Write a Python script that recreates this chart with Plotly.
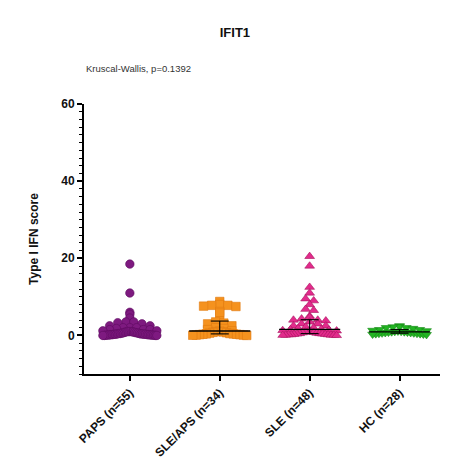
import numpy as np
import plotly.graph_objects as go

categories = ["PAPS (n=55)", "SLE/APS (n=34)", "SLE (n=48)", "HC (n=28)"]
paps = [18.5, 11, 6, 5.5, 4.5, 3.5, 3.5, 3.3, 3, 2.5, 2.5, 2, 2, 2, 1.8, 1.5, 1.5, 1.5, 1.2, 1.2,
        1, 1, 1, 1, 0.9, 0.8, 0.8, 0.7, 0.7, 0.6, 0.6, 0.5, 0.5, 0.5, 0.4, 0.4, 0.4, 0.3, 0.3, 0.3,
        0.3, 0.2, 0.2, 0.2, 0.2, 0.1, 0.1, 0.1, 0.1, 0.05, 0.05, 0, 0, 0, 0]
sle_aps = [8.8, 8, 7.8, 7.8, 7.6, 7.5, 6.2, 5.8, 3.8, 3.5, 3.2, 3, 2.5, 2, 1.8, 1.5, 1.2, 1.1, 1, 0.9,
           0.8, 0.7, 0.6, 0.5, 0.4, 0.4, 0.3, 0.3, 0.2, 0.2, 0.1, 0.1, 0.05, 0]
sle = [20.5, 18, 12.5, 11, 9.5, 9, 8, 6.8, 6.5, 5, 4.7, 4.3, 4, 4, 3.8, 3.5, 3, 3, 2.5, 2.5,
       2.2, 2, 1.8, 1.6, 1.5, 1.4, 1.3, 1.2, 1, 1, 0.9, 0.8, 0.7, 0.6, 0.5, 0.5, 0.4, 0.4, 0.3, 0.3,
       0.2, 0.2, 0.2, 0.1, 0.1, 0.1, 0.05, 0]
hc = [2.5, 2.3, 2.2, 2, 2, 1.8, 1.5, 1.5, 1.3, 1.2, 1.1, 1, 1, 0.9, 0.9, 0.8, 0.8, 0.7, 0.7, 0.6,
      0.6, 0.5, 0.5, 0.4, 0.4, 0.3, 0.3, 0.2]
groups = [paps, sle_aps, sle, hc]
colors = ["#7E1A80", "#F5921E", "#E22B8C", "#22B422"]
lines = ["#5E0A60", "#E07A10", "#A8145E", "#168A16"]
symbols = ["circle", "square", "triangle-up", "triangle-down"]


def swarm(vals, binh=1.2, step=0.09, maxw=0.3):
    vals = np.array(vals, float)
    order = np.argsort(-vals)
    xs = np.zeros(len(vals))
    bins = {}
    for i in order:
        b = int(np.floor(vals[i] / binh))
        bins.setdefault(b, []).append(i)
    for b, idx in bins.items():
        k = len(idx)
        if k == 1:
            continue
        sp = min(step, 2 * maxw / (k - 1))
        offs = sorted([(j - (k - 1) / 2) * sp for j in range(k)], key=lambda o: (abs(o), o))
        for j, i in enumerate(idx):
            xs[i] = offs[j]
    return xs


fig = go.Figure()


def add_stats(ci, vals):
    q1, med, q3 = np.percentile(vals, [25, 50, 75])
    fig.add_trace(go.Scatter(x=[ci - 0.34, ci + 0.34], y=[med, med], mode="lines",
                             line=dict(color="black", width=1.3), showlegend=False, hoverinfo="skip"))
    fig.add_trace(go.Scatter(x=[ci - 0.1, ci + 0.1, None, ci, ci, None, ci - 0.1, ci + 0.1],
                             y=[q3, q3, None, q3, q1, None, q1, q1], mode="lines",
                             line=dict(color="black", width=1.1), showlegend=False, hoverinfo="skip"))


for ci, vals in enumerate(groups):
    if ci == 0:
        add_stats(ci, vals)
    xs = swarm(vals) + ci
    fig.add_trace(go.Scatter(x=xs, y=vals, mode="markers",
                             marker=dict(symbol=symbols[ci], size=8.5, color=colors[ci],
                                         line=dict(color=lines[ci], width=0.6)),
                             showlegend=False))
    if ci > 0:
        add_stats(ci, vals)

fig.update_layout(
    width=450, height=474,
    margin=dict(l=84, r=10, t=104, b=100),
    plot_bgcolor="white", paper_bgcolor="white",
    font=dict(family="Liberation Sans, Arial, sans-serif", color="black"),
    title=dict(text="<b>IFIT1</b>", x=0.522, xanchor="center", y=0.932, yanchor="middle",
               font=dict(size=13, color="#111")),
    xaxis=dict(range=[-0.51, 3.45], tickmode="array", tickvals=[0, 1, 2, 3], ticktext=[f"<b>{c}</b>" for c in categories],
               tickangle=-45, ticks="outside", ticklen=5, tickwidth=1.5, tickcolor="black",
               showline=True, linecolor="black", linewidth=2, showgrid=False, zeroline=False,
               tickfont=dict(size=12, color="#111")),
    yaxis=dict(range=[-10, 60], tickvals=[0, 20, 40, 60], ticktext=["<b>0</b>", "<b>20</b>", "<b>40</b>", "<b>60</b>"],
               ticks="outside", ticklen=5, tickwidth=1.5, tickcolor="black",
               minor=dict(dtick=2, ticks="outside", ticklen=3, tickwidth=1, tickcolor="black"),
               showline=True, linecolor="black", linewidth=2, showgrid=False, zeroline=False,
               tickfont=dict(size=12, color="#111"),
               title=dict(text="<b>Type I IFN score</b>", font=dict(size=12, color="#111"), standoff=20)),
)
fig.add_annotation(text="Kruscal-Wallis, p=0.1392", xref="paper", yref="paper", x=0.0, y=1.13,
                   xanchor="left", yanchor="middle", showarrow=False,
                   font=dict(size=9.5, color="#333"))
fig.write_html("out.html")
